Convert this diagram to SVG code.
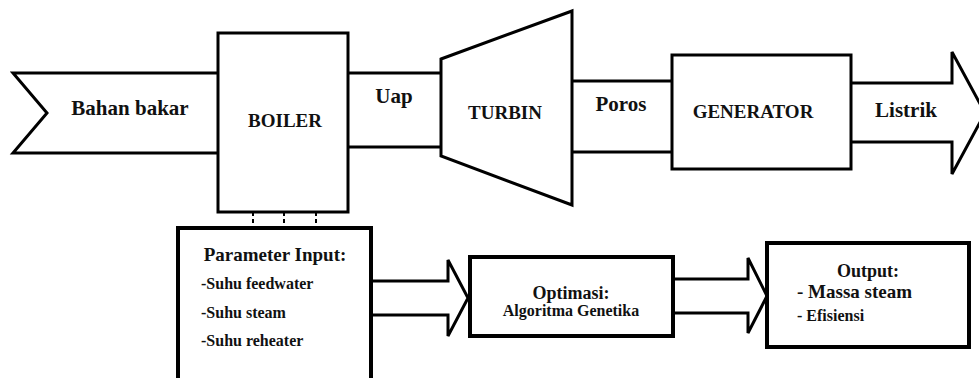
<svg xmlns="http://www.w3.org/2000/svg" width="979" height="378" viewBox="0 0 979 378">
<style>
.s{fill:#fff;stroke:#000;stroke-width:3;stroke-linejoin:miter}
.b{fill:#fff;stroke:#000;stroke-width:4}
.l{fill:none;stroke:#000;stroke-width:3}
.d{fill:none;stroke:#000;stroke-width:2;stroke-dasharray:4,3}
.c{text-anchor:middle}
</style>
<rect width="979" height="378" fill="#fff"/>
<g id="connectors">
<path id="bahan-bakar" class="s" d="M218,73 H13 L47,113 L13,153 H218"/>
<path id="uap" class="l" d="M348,73 H441 M348,147 H441"/>
<path id="poros" class="l" d="M572,81 H672 M572,152 H672"/>
<path id="listrik" class="s" d="M851,83 H952 V52 L985,113 L952,174 V142 H851"/>
<path id="inputs" class="d" d="M253,212 V228 M284,212 V228 M316,212 V228"/>
<path id="arrow1" class="s" d="M371,281 H448 V260 L468,298 L448,336 V315 H371"/>
<path id="arrow2" class="s" d="M673,279 H748 V258 L767,296 L748,333 V313 H673"/>
</g>
<g font-family="Liberation Serif, Times New Roman, serif" font-weight="bold" fill="#111">
<g id="labels">
<text x="130" y="115" class="c" font-size="21">Bahan bakar</text>
<text x="394" y="103" class="c" font-size="21">Uap</text>
<text x="621" y="111" class="c" font-size="21">Poros</text>
<text x="906" y="117" class="c" font-size="21">Listrik</text>
</g>
<g id="boiler">
<rect class="s" x="218" y="33" width="130" height="179"/>
<text x="285" y="127" class="c" font-size="19">BOILER</text>
</g>
<g id="turbin">
<polygon class="s" points="441,59 572,11 572,205 441,156"/>
<text x="505" y="119" class="c" font-size="19">TURBIN</text>
</g>
<g id="generator">
<rect class="s" x="672" y="55" width="179" height="114"/>
<text x="753" y="118" class="c" font-size="19">GENERATOR</text>
</g>
<g id="parameter">
<rect class="b" x="178" y="228" width="193" height="170"/>
<text x="275" y="261" class="c" font-size="19">Parameter Input:</text>
<text x="201" y="289" font-size="16">-Suhu feedwater</text>
<text x="201" y="318" font-size="16">-Suhu steam</text>
<text x="201" y="346" font-size="16">-Suhu reheater</text>
</g>
<g id="optimasi">
<rect class="b" x="470" y="257" width="203" height="79"/>
<text x="571" y="299" class="c" font-size="18">Optimasi:</text>
<text x="571" y="316" class="c" font-size="16">Algoritma Genetika</text>
</g>
<g id="output">
<rect class="b" x="767" y="243" width="202" height="104"/>
<text x="868" y="277" class="c" font-size="18">Output:</text>
<text x="797" y="298" font-size="19">- Massa steam</text>
<text x="797" y="321" font-size="16">- Efisiensi</text>
</g>
</g>
</svg>
